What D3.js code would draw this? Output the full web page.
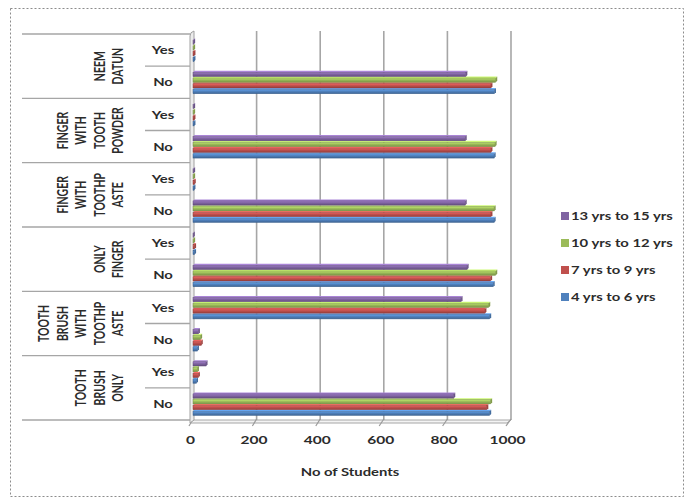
<!DOCTYPE html>
<html>
<head>
<meta charset="utf-8">
<script src="https://cdn.jsdelivr.net/npm/d3@7/dist/d3.min.js"></script>
<style>
  html, body { margin: 0; padding: 0; background: #fff; }
  svg { display: block; }
  text { font-family: Lato, "Open Sans", "Liberation Sans", sans-serif; font-weight: bold; fill: #2b2b2b; }
</style>
</head>
<body>
<svg id="chart" width="692" height="503"></svg>
<script>
// ---------- data ----------
const groups = ["NEEM DATUN", "FINGER WITH TOOTH POWDER", "FINGER WITH TOOTHPASTE", "ONLY FINGER", "TOOTH BRUSH WITH TOOTHPASTE", "TOOTH BRUSH ONLY"];
const groupLines = [["NEEM", "DATUN"], ["FINGER", "WITH", "TOOTH", "POWDER"], ["FINGER", "WITH", "TOOTHP", "ASTE"], ["ONLY", "FINGER"], ["TOOTH", "BRUSH", "WITH", "TOOTHP", "ASTE"], ["TOOTH", "BRUSH", "ONLY"]];
const answers = ["Yes", "No"];
const seriesNames = ["4 yrs to 6 yrs", "7 yrs to 9 yrs", "10 yrs to 12 yrs", "13 yrs to 15 yrs"];
const seriesColors = ["#4F81BD", "#C0504D", "#9BBB59", "#8064A2"];
// rows top to bottom: NEEM Yes, NEEM No, FTP Yes, FTP No, FTPaste Yes, FTPaste No, OF Yes, OF No, TBWT Yes, TBWT No, TBO Yes, TBO No
const age4to6   = [3, 948, 3, 947, 3, 947, 5, 944, 933, 14, 11, 933];
const age7to9   = [3, 937, 3, 937, 4, 937, 5, 936, 918, 26, 17, 924];
const age10to12 = [2, 952, 2, 950, 2, 947, 2, 952, 930, 24, 14, 936];
const age13to15 = [2, 858, 2, 856, 2, 856, 1, 862, 843, 17, 41, 820];
const seriesValues = [age4to6, age7to9, age10to12, age13to15];
const xTicks = [0, 200, 400, 600, 800, 1000];
const xTitle = "No of Students";

// ---------- layout ----------
const svg = d3.select("#chart");
const SX = 1.35; // horizontal stretch of the text, as in the reference
const rows = groups.flatMap(g => answers.map(a => g + "|" + a));

const y = d3.scaleBand().domain(rows).range([34, 420]);
const yg = d3.scaleBand().domain(groups).range([34, 420]);
const ys = d3.scaleBand().domain([3, 2, 1, 0]).range([0, y.bandwidth()]).paddingOuter(0.8).paddingInner(0);
const xb = d3.scaleLinear().domain([0, 1000]).range([193, 511]); // back plane
const xf = d3.scaleLinear().domain([0, 1000]).range([190, 507]); // front axis

// outer dashed border
svg.append("rect").attr("x", 10.5).attr("y", 8.5).attr("width", 673).attr("height", 488)
  .attr("fill", "none").attr("stroke", "#8c8c8c").attr("stroke-dasharray", "2,2");

// gradients
const defs = svg.append("defs");
seriesColors.forEach((c, i) => {
  const g = defs.append("linearGradient").attr("id", "g" + i).attr("x1", 0).attr("y1", 0).attr("x2", 0).attr("y2", 1);
  g.append("stop").attr("offset", "0%").attr("stop-color", d3.color(c).brighter(0.6));
  g.append("stop").attr("offset", "45%").attr("stop-color", c);
  g.append("stop").attr("offset", "100%").attr("stop-color", d3.color(c).darker(0.7));
});

// gridlines (back wall)
svg.append("g").selectAll("line").data(xTicks.slice(1)).join("line")
  .attr("x1", d => xb(d)).attr("x2", d => xb(d))
  .attr("y1", 31).attr("y2", 420)
  .attr("stroke", "#a6a6a6").attr("stroke-width", 1.6);

// floor
svg.append("path")
  .attr("d", `M${xb(0)},420 L${xb(1000)},420 L${xf(1000)},423 L${xf(0)},423 Z`)
  .attr("fill", "#f4f4f4").attr("stroke", "#a6a6a6").attr("stroke-width", 1);
svg.append("g").selectAll("line").data(xTicks).join("line")
  .attr("x1", d => xb(d)).attr("y1", 419)
  .attr("x2", d => xf(d) - 1).attr("y2", 426)
  .attr("stroke", "#9a9a9a").attr("stroke-width", 1.2);

// left wall
svg.append("path")
  .attr("d", `M190,423 L190,36 Q190,32 194,31 L194,420 Z`)
  .attr("fill", "#ececec").attr("stroke", "#a0a0a0").attr("stroke-width", 1);

// category separator lines
const groupBounds = groups.map(g => yg(g)).concat([420]);
svg.append("g").selectAll("line").data(groupBounds).join("line")
  .attr("x1", 22).attr("x2", 190).attr("y1", d => d).attr("y2", d => d)
  .attr("stroke", "#a6a6a6").attr("stroke-width", 1.4);
svg.append("g").selectAll("line").data(groups).join("line")
  .attr("x1", 145).attr("x2", 190).attr("y1", d => yg(d) + yg.bandwidth() / 2).attr("y2", d => yg(d) + yg.bandwidth() / 2)
  .attr("stroke", "#a6a6a6").attr("stroke-width", 1.4);

// Yes / No labels
svg.append("g").selectAll("text").data(rows).join("text")
  .attr("transform", d => `translate(163,${y(d) + y.bandwidth() / 2}) scale(${SX},1)`)
  .attr("text-anchor", "middle").attr("dominant-baseline", "central")
  .style("font-size", "11px")
  .text(d => d.split("|")[1]);

// group labels (rotated, multi-line)
groups.forEach((g, gi) => {
  const lines = groupLines[gi];
  const n = lines.length;
  const cy = yg(g) + yg.bandwidth() / 2;
  lines.forEach((t, j) => {
    const cx = 118 - (n - 1 - j) * 18.5;
    svg.append("text")
      .attr("transform", `translate(${cx},${cy}) scale(${SX},1) rotate(-90)`)
      .attr("text-anchor", "middle").attr("dominant-baseline", "central")
      .style("font-size", "10.5px")
      .text(t);
  });
});

// bars
const d3d = 1.5;
const barData = [];
rows.forEach((r, ri) => {
  seriesValues.forEach((vals, si) => barData.push({ r, si, v: vals[ri] }));
});
const bars = svg.append("g").selectAll("g").data(barData).join("g");
bars.each(function (d) {
  const g = d3.select(this);
  const x0 = xb(0), x1 = xb(d.v);
  const y0 = y(d.r) + ys(d.si);
  const h = ys.bandwidth();
  const c = seriesColors[d.si];
  g.append("path")
    .attr("d", `M${x0},${y0 + d3d} L${x0 + d3d},${y0} L${x1 + d3d},${y0} L${x1},${y0 + d3d} Z`)
    .attr("fill", d3.color(c).brighter(0.8));
  g.append("rect").attr("x", x0).attr("y", y0 + d3d).attr("width", Math.max(0.5, x1 - x0)).attr("height", h - d3d)
    .attr("fill", `url(#g${d.si})`).attr("stroke", d3.color(c).darker(0.8)).attr("stroke-width", 0.5);
  g.append("path")
    .attr("d", `M${x1},${y0 + d3d} L${x1 + d3d},${y0} L${x1 + d3d},${y0 + h - d3d} L${x1},${y0 + h} Z`)
    .attr("fill", d3.color(c).darker(0.5));
});

// x axis labels
const axis = d3.axisBottom(xf).tickValues(xTicks).tickSize(0).tickPadding(0).tickFormat(d3.format("d"));
const ax = svg.append("g").attr("transform", "translate(0,440)").call(axis);
ax.select(".domain").remove();
ax.selectAll("text")
  .attr("y", 0).attr("dy", null)
  .attr("dominant-baseline", "central")
  .attr("transform", `scale(${SX},1)`)
  .style("font-size", "11.5px").style("font-family", null).attr("fill", "#2b2b2b");

// x title
svg.append("text")
  .attr("transform", `translate(350,472) scale(${SX},1)`)
  .attr("text-anchor", "middle").attr("dominant-baseline", "central")
  .style("font-size", "11px")
  .text(xTitle);

// legend (top: 13-15 ... bottom: 4-6)
const legendOrder = [3, 2, 1, 0];
const lg = svg.append("g").selectAll("g").data(legendOrder).join("g")
  .attr("transform", (d, i) => `translate(561,${216 + i * 27})`);
lg.append("rect").attr("x", 0).attr("y", -4).attr("width", 8).attr("height", 8)
  .attr("fill", d => seriesColors[d]);
lg.append("text").attr("transform", `translate(10,0) scale(${SX},1)`)
  .attr("dominant-baseline", "central")
  .style("font-size", "11px")
  .text(d => seriesNames[d]);
</script>
</body>
</html>
